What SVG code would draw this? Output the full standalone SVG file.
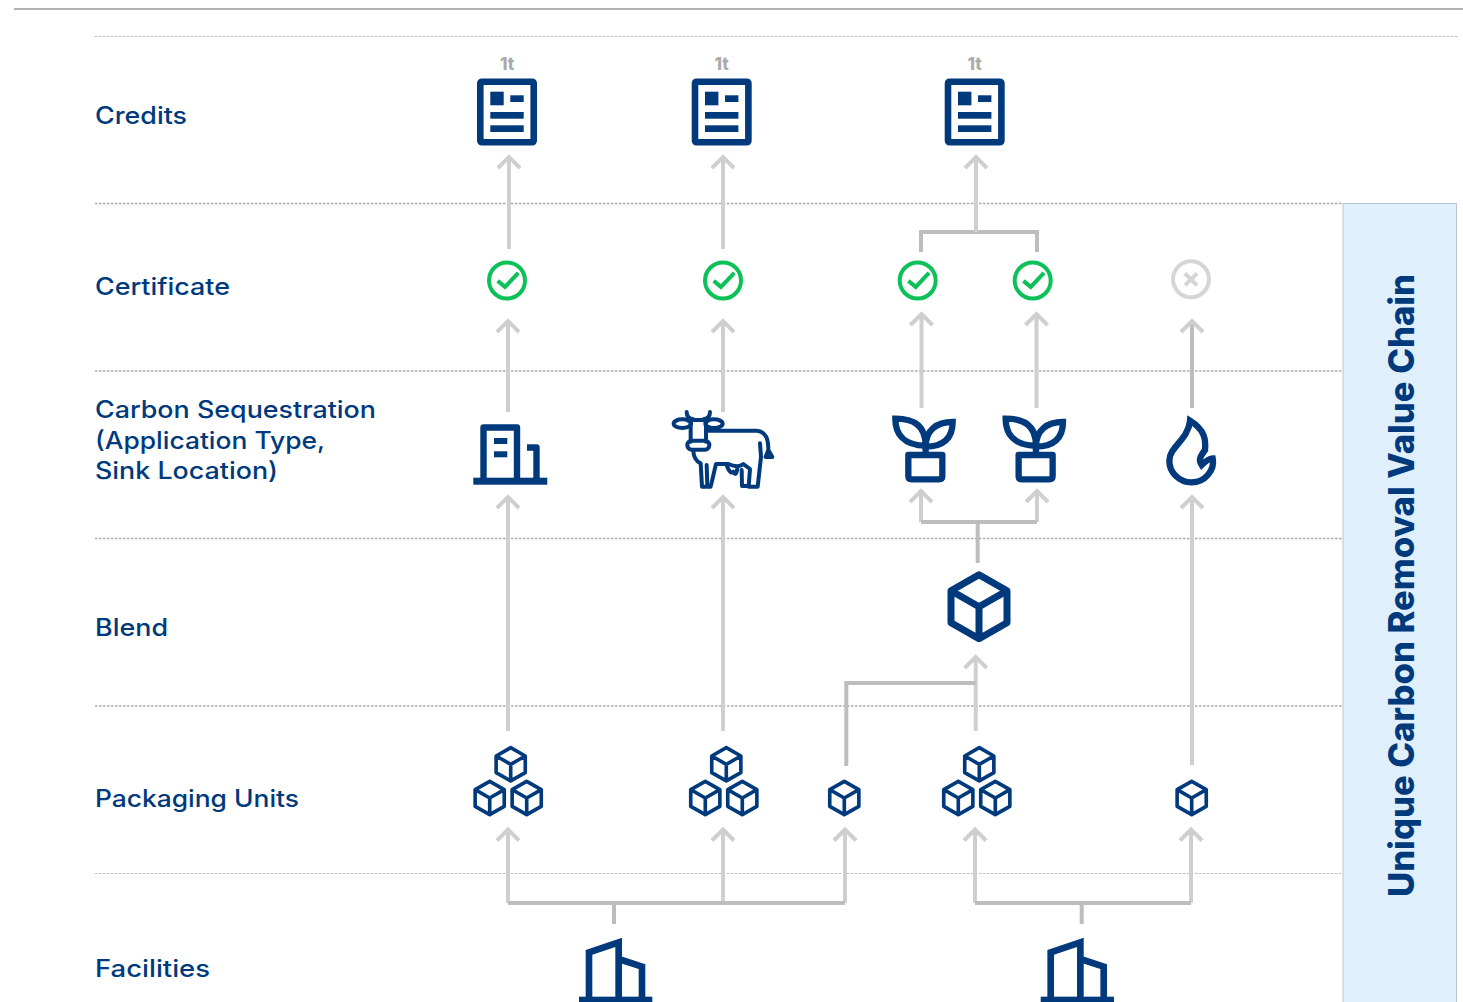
<svg xmlns="http://www.w3.org/2000/svg" width="1463" height="1002" viewBox="0 0 1463 1002">
<style>
.lbl{font-family:"Inter","Open Sans",sans-serif;font-size:24px;font-weight:500;fill:#003a7d}
.t1{font-family:"Inter","Open Sans",sans-serif;font-size:17px;font-weight:800;fill:#aaa;text-anchor:middle}
.dot{stroke:#aaa;stroke-width:1.4;stroke-dasharray:2.5 1.5;fill:none}
.dot2{stroke:#bbb;stroke-width:1;stroke-dasharray:2.5 1.5;fill:none}
.w{fill:none;stroke:#cfcfcf;stroke-width:4}
.w2{fill:none;stroke:#bdbdbd;stroke-width:4}
.n{fill:none;stroke:#003a7d;stroke-linejoin:round}
.m{fill:none;stroke:#003a7d;stroke-linejoin:miter;stroke-miterlimit:8}
.f{fill:#003a7d}
.g{fill:none;stroke:#0cc157;stroke-width:4}
</style>
<defs>
<marker id="ah" viewBox="0 0 16 26" refX="13" refY="13" markerWidth="16" markerHeight="26" markerUnits="userSpaceOnUse" orient="auto"><path d="M2 2 13 13 2 24" fill="none" stroke="#cfcfcf" stroke-width="4"/></marker>
<g id="doc"><rect x="-26.7" y="-30.3" width="53.4" height="60.6" rx="1.5" class="n" stroke-width="6.6"/><rect x="-16.700" y="-20.300" width="13.4" height="13.6" class="f"/><rect x="3.300" y="-16.700" width="13.4" height="6.7" class="f"/><rect x="-16.700" y="0" width="33.4" height="6.7" class="f"/><rect x="-16.700" y="13.300" width="33.4" height="6.7" class="f"/></g>
<g id="ok"><circle r="18" class="g"/><path d="M-9.3 .4-2 6.4 11.3-7.6" class="g"/></g>
<g id="cube"><path d="M0-32 28-16V16L0 32-28 16V-16ZM-28-16 0 0 28-16M0 0V32" class="n"/></g>
<g id="plant" transform="scale(.33333)"><path d="M46 506C100 506 137 525 137 587 70 587 46 550 46 506ZM218 516C170 516 137 540 137 590 190 590 218 565 218 516Z" class="m" stroke-width="19"/><path d="M137 587V612M85 615H187V678Q187 688 177 688H95Q85 688 85 678Z" class="n" stroke-width="19"/></g>
<g id="fac"><path d="M387 810V667L476 637V810M476 687 546 710V810" class="m" stroke-width="20"/><rect x="357" y="800" width="220" height="20" class="f"/></g>
</defs>
<g id="grid">
<path d="M14 9H1463" stroke="#999" stroke-width="1.5" fill="none"/>
<path class="dot2" d="M95 36.500H1459M95 873.500H1343"/>
<path class="dot" d="M95 203.500H1343M95 371H1343M95 538.500H1343M95 706H1343"/>
</g>
<g id="panel"><rect x="1343" y="203.500" width="113.500" height="810" fill="#e0effc" stroke="#b9c6d2" stroke-width="1"/>
<text transform="translate(1414 585.500) rotate(-90)" text-anchor="middle" textLength="623" lengthAdjust="spacingAndGlyphs" style="font-family:'Inter','Open Sans',sans-serif;font-size:35px;font-weight:800;fill:#003a7d">Unique Carbon Removal Value Chain</text></g>
<g id="labels">
<text class="lbl" x="95" y="123.500" textLength="92" lengthAdjust="spacingAndGlyphs">Credits</text>
<text class="lbl" x="95" y="294.500" textLength="135" lengthAdjust="spacingAndGlyphs">Certificate</text>
<text class="lbl" x="95" y="418" textLength="281" lengthAdjust="spacingAndGlyphs">Carbon Sequestration</text>
<text class="lbl" x="95" y="449" textLength="230" lengthAdjust="spacingAndGlyphs">(Application Type,</text>
<text class="lbl" x="95" y="479" textLength="183" lengthAdjust="spacingAndGlyphs">Sink Location)</text>
<text class="lbl" x="95" y="635.500" textLength="73" lengthAdjust="spacingAndGlyphs">Blend</text>
<text class="lbl" x="95" y="806.500" textLength="204" lengthAdjust="spacingAndGlyphs">Packaging Units</text>
<text class="lbl" x="95" y="977" textLength="115" lengthAdjust="spacingAndGlyphs">Facilities</text>
</g>
<g id="connectors">
<path class="w" marker-end="url(#ah)" d="M509 249V157"/>
<path class="w" marker-end="url(#ah)" d="M723 249V157"/>
<path class="w2" d="M921 252V232H1037V252"/>
<path class="w" marker-end="url(#ah)" d="M976 232V157"/>
<path class="w" marker-end="url(#ah)" d="M508 412V321"/>
<path class="w" marker-end="url(#ah)" d="M723 412V321"/>
<path class="w" marker-end="url(#ah)" d="M921.500 408V314"/>
<path class="w" marker-end="url(#ah)" d="M1036.500 408V314"/>
<path class="w2" marker-end="url(#ah)" d="M1192 408V321"/>
<path class="w" marker-end="url(#ah)" d="M508 731V497"/>
<path class="w" marker-end="url(#ah)" d="M723 731V497"/>
<path class="w" marker-end="url(#ah)" d="M1192 765V497"/>
<path class="w" marker-end="url(#ah)" d="M921 522V491"/>
<path class="w" marker-end="url(#ah)" d="M1037 522V491"/>
<path class="w2" d="M921 522H1037M977.700 522V563"/>
<path class="w" marker-end="url(#ah)" d="M975.700 731V657"/>
<path class="w2" d="M846.300 766V683H975.700"/>
<path class="w" marker-end="url(#ah)" d="M508 903V829.500"/>
<path class="w" marker-end="url(#ah)" d="M723 903V829.500"/>
<path class="w" marker-end="url(#ah)" d="M845 903V829.500"/>
<path class="w2" d="M508 903H845M614 903V924"/>
<path class="w" marker-end="url(#ah)" d="M975 903V829.500"/>
<path class="w" marker-end="url(#ah)" d="M1191 903V829.500"/>
<path class="w2" d="M975 903H1191M1081.700 903V924"/>
</g>
<g id="credit-1"><text class="t1" x="507" y="70">1t</text><use href="#doc" x="507" y="112"/></g>
<g id="credit-2"><text class="t1" x="721.500" y="70">1t</text><use href="#doc" x="721.700" y="112"/></g>
<g id="credit-3"><text class="t1" x="974.500" y="70">1t</text><use href="#doc" x="974.700" y="112"/></g>
<g id="cert-1"><use href="#ok" x="507" y="280.500"/></g>
<g id="cert-2"><use href="#ok" x="723" y="280.500"/></g>
<g id="cert-3"><use href="#ok" x="917.700" y="280.500"/></g>
<g id="cert-4"><use href="#ok" x="1032.700" y="280.500"/></g>
<g id="cert-5"><circle cx="1191" cy="279.300" r="18" fill="none" stroke="#d5d5d5" stroke-width="4"/><path d="M1185 273.300 1197 285.300M1197 273.300 1185 285.300" stroke="#d5d5d5" stroke-width="4" fill="none"/></g>
<g id="sink-building"><rect x="473.300" y="477.700" width="74" height="7" class="f"/><path d="M483.500 479V427.500H517V479M527 447.500H536.500V479" class="n" stroke-width="6.400"/><rect x="494" y="438" width="13.300" height="6" class="f"/><rect x="494" y="451.300" width="13.300" height="6" class="f"/></g>
<g id="sink-cow" transform="translate(460 400) scale(.33333)"><g class="n" stroke-width="12" stroke-linecap="round">
<path d="M680 36Q680 55 700 58M750 36Q750 55 730 58"/>
<ellipse cx="667" cy="71" rx="26" ry="13"/><ellipse cx="762" cy="71" rx="26" ry="13"/>
<path d="M692 60H738V125M692 60V125"/><rect x="682" y="122" width="66" height="27" rx="13"/>
<path d="M745 92H890C920 95 925 120 925 150M925 150 917 171H937Z"/>
<path d="M700 150Q700 180 722 190L726 260H752L768 192H805Q835 205 850 192L870 207 866 260 893 260 903 170 900 130"/>
<path d="M740 195 742 258M845 210 846 258H866M800 195Q810 225 820 215 828 232 832 205"/>
</g></g>
<g id="sink-plant-1" transform="translate(880 250)"><use href="#plant"/></g>
<g id="sink-plant-2" transform="translate(990.300 250)"><use href="#plant"/></g>
<g id="sink-fire" transform="translate(880 250) scale(.33333)"><path class="m" stroke-width="19" d="M930 512C975 540 978 570 975 600 960 620 955 630 965 645 975 635 990 625 998 625 1005 660 975 697 935 697 895 697 868 665 868 632 868 590 925 570 930 512Z"/></g>
<g id="blend"><use href="#cube" x="979" y="606.700" stroke-width="7"/></g>
<g id="pack-1" stroke-width="7"><use href="#cube" transform="translate(510.700 764.300) scale(.52)"/><use href="#cube" transform="translate(489.700 798) scale(.52)"/><use href="#cube" transform="translate(526.700 798) scale(.52)"/></g>
<g id="pack-2" stroke-width="7"><use href="#cube" transform="translate(726.300 764.300) scale(.52)"/><use href="#cube" transform="translate(705.300 798) scale(.52)"/><use href="#cube" transform="translate(742.300 798) scale(.52)"/></g>
<g id="pack-3" stroke-width="7"><use href="#cube" transform="translate(844.300 798) scale(.52)"/></g>
<g id="pack-4" stroke-width="7"><use href="#cube" transform="translate(979.300 764.300) scale(.52)"/><use href="#cube" transform="translate(958.300 798) scale(.52)"/><use href="#cube" transform="translate(995.300 798) scale(.52)"/></g>
<g id="pack-5" stroke-width="7"><use href="#cube" transform="translate(1191.700 798) scale(.52)"/></g>
<g id="facility-1" transform="translate(460 730) scale(.33333)"><use href="#fac"/></g>
<g id="facility-2" transform="translate(921.700 730) scale(.33333)"><use href="#fac"/></g>
</svg>
